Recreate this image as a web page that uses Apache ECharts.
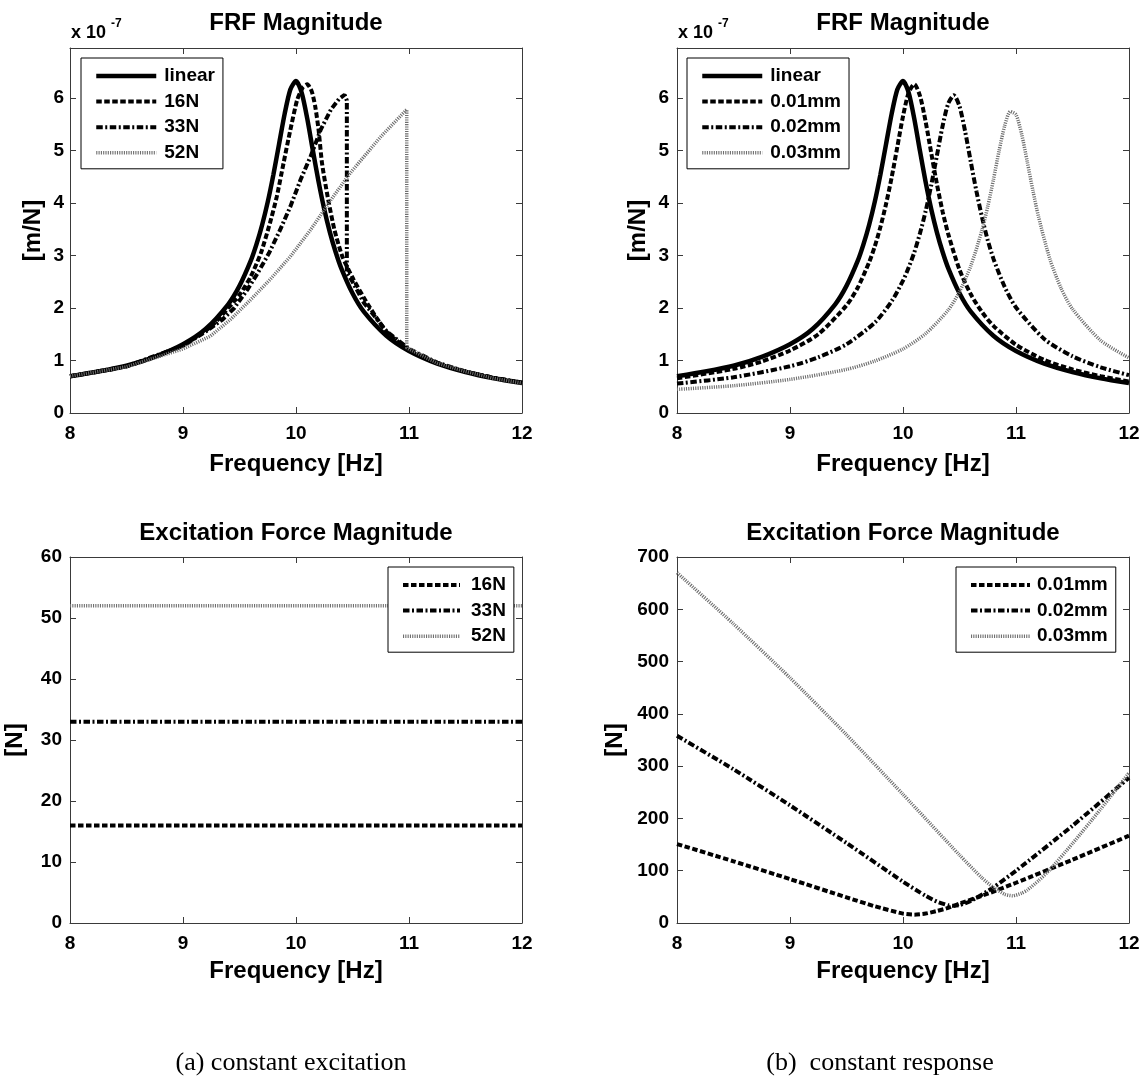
<!DOCTYPE html>
<html>
<head>
<meta charset="utf-8">
<title>FRF and excitation force</title>
<script src="https://cdn.jsdelivr.net/npm/echarts@6/dist/echarts.min.js"></script>
<style>
  html, body { margin: 0; padding: 0; background: #fff; }
  #chart { width: 1143px; height: 1079px; }
</style>
</head>
<body>
<div id="chart"></div>
<script>
// ---- Frequency axis ticks ----
const freqTicks = [8, 9, 10, 11, 12];

// ---- FRF magnitude [x 1e-7 m/N] ----
// linear system (shared by both upper panels)
const fLinear = [8.0, 8.25, 8.5, 8.75, 9.0, 9.2, 9.4, 9.5, 9.6, 9.65, 9.7, 9.75, 9.8, 9.85, 9.9, 9.95, 10.0, 10.05, 10.1, 10.15, 10.2, 10.25, 10.3, 10.35, 10.4, 10.5, 10.6, 10.8, 11.0, 11.25, 11.5, 11.75, 12.0];
const hLinear = [0.70, 0.79, 0.90, 1.07, 1.31, 1.60, 2.07, 2.42, 2.90, 3.21, 3.58, 4.02, 4.54, 5.12, 5.70, 6.16, 6.32, 6.10, 5.60, 4.99, 4.40, 3.88, 3.44, 3.07, 2.76, 2.28, 1.93, 1.47, 1.18, 0.94, 0.78, 0.66, 0.57];

// constant excitation: 16 N
const f16N = [8.0, 8.5, 9.0, 9.25, 9.5, 9.6, 9.69, 9.77, 9.83, 9.89, 9.95, 10.01, 10.06, 10.10, 10.14, 10.17, 10.20, 10.23, 10.28, 10.34, 10.41, 10.51, 10.63, 10.8, 11.0, 11.25, 11.5, 11.75, 12.0];
const h16N = [0.70, 0.89, 1.29, 1.65, 2.25, 2.60, 3.05, 3.62, 4.12, 4.76, 5.39, 5.96, 6.20, 6.26, 6.12, 5.84, 5.39, 4.76, 4.12, 3.49, 2.98, 2.54, 2.09, 1.55, 1.21, 0.95, 0.79, 0.67, 0.58];
// constant excitation: 33 N (jump-down at 10.45 Hz)
const f33N = [8.0, 8.5, 9.0, 9.2, 9.35, 9.45, 9.57, 9.66, 9.76, 9.86, 9.95, 10.04, 10.13, 10.22, 10.31, 10.38, 10.43, 10.45, 10.45, 10.5, 10.6, 10.8, 11.0, 11.25, 11.5, 11.75, 12.0];
const h33N = [0.70, 0.89, 1.28, 1.55, 1.78, 1.99, 2.35, 2.66, 3.04, 3.49, 3.93, 4.44, 4.89, 5.40, 5.78, 5.98, 6.06, 5.95, 2.67, 2.50, 2.10, 1.56, 1.22, 0.96, 0.79, 0.67, 0.58];
// constant excitation: 52 N (jump-down at 10.98 Hz)
const f52N = [8.0, 8.5, 9.0, 9.24, 9.42, 9.6, 9.77, 9.95, 10.13, 10.31, 10.48, 10.75, 10.98, 10.98, 11.25, 11.5, 11.75, 12.0];
const h52N = [0.70, 0.88, 1.22, 1.46, 1.78, 2.16, 2.54, 2.98, 3.49, 4.06, 4.57, 5.26, 5.78, 1.24, 0.95, 0.79, 0.66, 0.57];

// constant response: 0.01 mm
const f001 = [8.0, 8.5, 8.75, 9.0, 9.25, 9.5, 9.6, 9.7, 9.75, 9.8, 9.85, 9.9, 9.95, 10.0, 10.05, 10.1, 10.15, 10.2, 10.25, 10.3, 10.35, 10.4, 10.5, 10.6, 10.7, 10.8, 11.0, 11.25, 11.5, 11.75, 12.0];
const h001 = [0.66, 0.84, 0.98, 1.19, 1.50, 2.05, 2.39, 2.87, 3.17, 3.54, 3.98, 4.49, 5.07, 5.65, 6.10, 6.26, 6.04, 5.55, 4.95, 4.36, 3.84, 3.41, 2.73, 2.26, 1.92, 1.66, 1.30, 1.01, 0.83, 0.70, 0.60];
// constant response: 0.02 mm
const f002 = [8.0, 8.5, 9.0, 9.25, 9.5, 9.75, 9.9, 10.0, 10.05, 10.1, 10.15, 10.2, 10.25, 10.3, 10.35, 10.4, 10.45, 10.5, 10.55, 10.6, 10.65, 10.7, 10.75, 10.8, 10.9, 11.0, 11.25, 11.5, 11.75, 12.0];
const h002 = [0.56, 0.68, 0.89, 1.06, 1.31, 1.72, 2.13, 2.52, 2.77, 3.06, 3.42, 3.84, 4.34, 4.90, 5.46, 5.89, 6.05, 5.84, 5.36, 4.78, 4.22, 3.72, 3.29, 2.94, 2.40, 2.01, 1.41, 1.08, 0.87, 0.72];
// constant response: 0.03 mm
const f003 = [8.0, 8.5, 9.0, 9.5, 9.75, 10.0, 10.2, 10.4, 10.5, 10.6, 10.7, 10.75, 10.8, 10.85, 10.9, 10.95, 11.0, 11.05, 11.1, 11.15, 11.2, 11.3, 11.4, 11.5, 11.75, 12.0];
const h003 = [0.45, 0.52, 0.64, 0.83, 0.99, 1.22, 1.51, 1.96, 2.31, 2.80, 3.49, 3.93, 4.44, 4.99, 5.47, 5.74, 5.68, 5.31, 4.78, 4.23, 3.73, 2.93, 2.37, 1.98, 1.38, 1.05];

// ---- Excitation force magnitude [N] ----
const fEnds = [8, 12];
const force16N = [16, 16];
const force33N = [33, 33];
const force52N = [52, 52];

const fForce001 = [8.0, 8.5, 9.0, 9.5, 9.75, 10.0, 10.1, 10.2, 10.3, 10.4, 10.5, 10.75, 11.0, 11.5, 12.0];
const force001 = [151, 118, 84, 49, 32, 18, 16, 18, 23, 29, 37, 56, 77, 121, 167];
const fForce002 = [8.0, 8.5, 9.0, 9.5, 10.0, 10.2, 10.3, 10.4, 10.45, 10.5, 10.6, 10.8, 11.0, 11.5, 12.0];
const force002 = [358, 294, 225, 153, 79, 52, 41, 34, 33, 34, 42, 68, 100, 186, 278];
const fForce003 = [8.0, 8.5, 9.0, 9.5, 10.0, 10.5, 10.7, 10.8, 10.9, 10.97, 11.05, 11.1, 11.2, 11.3, 11.5, 11.75, 12.0];
const force003 = [670, 572, 469, 360, 246, 130, 86, 68, 55, 52, 57, 63, 81, 102, 152, 218, 287];

// ---- styling ----
const FONT = "'Liberation Sans', Arial, Helvetica, sans-serif";
const SERIF = "'Liberation Serif', 'Times New Roman', serif";
const AXIS_COLOR = '#3a3a3a';
const lineStyles = {
  solid:   { color: '#000', width: 4.5, type: 'solid' },
  dashed:  { color: '#000', width: 4, type: [5.5, 2.5] },
  dashdot: { color: '#000', width: 4, type: [6.5, 2.5, 2, 2.5] },
  dotted:  { color: '#6e6e6e', width: 3.5, type: [1.1, 1.2] }
};

// grid boxes: [left, top, width, height]
const boxes = [
  [70, 48, 452, 365],
  [677, 48, 452, 365],
  [70, 557, 452, 366],
  [677, 557, 452, 366]
];

const pts = (xs, ys) => xs.map((x, i) => [x, ys[i]]);

function xBottom(gi, nameGap) {
  return {
    type: 'value', gridIndex: gi, position: 'bottom',
    min: freqTicks[0], max: freqTicks[freqTicks.length - 1], interval: 1,
    name: 'Frequency [Hz]', nameLocation: 'middle', nameGap: nameGap,
    nameTextStyle: { fontSize: 24, fontWeight: 'bold', color: '#000', fontFamily: FONT },
    axisLine: { show: true, onZero: false, lineStyle: { color: AXIS_COLOR, width: 1 } },
    axisTick: { show: true, inside: true, length: 6, lineStyle: { color: AXIS_COLOR } },
    axisLabel: { margin: 11, color: '#000', fontSize: 19, fontWeight: 'bold', fontFamily: FONT },
    splitLine: { show: false }
  };
}
function xTop(gi) {
  return {
    type: 'value', gridIndex: gi, position: 'top',
    min: freqTicks[0], max: freqTicks[freqTicks.length - 1], interval: 1,
    axisLine: { show: true, onZero: false, lineStyle: { color: AXIS_COLOR, width: 1 } },
    axisTick: { show: true, inside: true, length: 6, lineStyle: { color: AXIS_COLOR } },
    axisLabel: { show: false }, splitLine: { show: false }
  };
}
function yLeft(gi, max, interval, name, gap, margin) {
  return {
    type: 'value', gridIndex: gi, position: 'left', min: 0, max: max, interval: interval,
    name: name, nameLocation: 'middle', nameGap: gap, nameRotate: 90,
    nameTextStyle: { fontSize: 24, fontWeight: 'bold', color: '#000', fontFamily: FONT },
    axisLine: { show: true, onZero: false, lineStyle: { color: AXIS_COLOR, width: 1 } },
    axisTick: { show: true, inside: true, length: 6, lineStyle: { color: AXIS_COLOR } },
    axisLabel: { margin: margin, color: '#000', fontSize: 19, fontWeight: 'bold', fontFamily: FONT,
                 showMaxLabel: Number.isInteger(max / interval) },
    splitLine: { show: false }
  };
}
function yRight(gi, max, interval) {
  return {
    type: 'value', gridIndex: gi, position: 'right', min: 0, max: max, interval: interval,
    axisLine: { show: true, onZero: false, lineStyle: { color: AXIS_COLOR, width: 1 } },
    axisTick: { show: true, inside: true, length: 6, lineStyle: { color: AXIS_COLOR } },
    axisLabel: { show: false }, splitLine: { show: false }
  };
}
function legendBox(left, top, names, iconW, textPadLeft) {
  return {
    orient: 'vertical', left: left, top: top, data: names,
    itemWidth: iconW, itemHeight: 14, itemGap: 5.6,
    padding: [8, 8, 6, 13],
    borderColor: '#000', borderWidth: 1, borderRadius: 0, backgroundColor: '#fff',
    selectedMode: false,
    // only the line sample is shown, no marker symbol on it
    itemStyle: { opacity: 0, color: 'rgba(0,0,0,0)', borderWidth: 0 },
    lineStyle: { width: 'inherit', type: 'inherit', color: 'inherit', opacity: 1 },
    textStyle: { fontSize: 19, fontWeight: 'bold', color: '#000', fontFamily: FONT,
                 lineHeight: 20, padding: [0, 0, 0, textPadLeft] }
  };
}
function line(name, gi, data, style, smooth) {
  return {
    type: 'line', name: name, xAxisIndex: gi, yAxisIndex: gi, data: data,
    symbol: 'none', showSymbol: false, smooth: smooth, clip: true,
    itemStyle: { color: lineStyles[style].color },
    lineStyle: Object.assign({}, lineStyles[style]),
    emphasis: { disabled: true }, silent: true
  };
}
function label(text, x, y, font, align) {
  return {
    type: 'text', x: x, y: y, silent: true,
    style: { text: text, font: font, fill: '#000', align: align || 'center', verticalAlign: 'middle',
             textAlign: align || 'center', textVerticalAlign: 'middle' }
  };
}

const names = {
  frfExc: ['linear', '16N', '33N', '52N'],
  frfResp: ['linear', '0.01mm', '0.02mm', '0.03mm'],
  forceExc: ['16N', '33N', '52N'],
  forceResp: ['0.01mm', '0.02mm', '0.03mm']
};

const cx = b => b[0] + b[2] / 2;

const option = {
  animation: false,
  backgroundColor: '#fff',
  grid: boxes.map(b => ({ left: b[0], top: b[1], width: b[2], height: b[3], show: false })),
  xAxis: [xBottom(0, 39), xBottom(1, 39), xBottom(2, 36), xBottom(3, 36), xTop(0), xTop(1), xTop(2), xTop(3)],
  yAxis: [
    yLeft(0, 6.95, 1, '[m/N]', 25, 6),
    yLeft(1, 6.95, 1, '[m/N]', 27, 8),
    yLeft(2, 60, 10, '[N]', 43, 8),
    yLeft(3, 700, 100, '[N]', 50, 8),
    yRight(0, 6.95, 1), yRight(1, 6.95, 1), yRight(2, 60, 10), yRight(3, 700, 100)
  ],
  legend: [
    legendBox(81, 58, names.frfExc, 60, 3),
    legendBox(687, 58, names.frfResp, 60, 3),
    legendBox(388, 567, names.forceExc, 57, 6),
    legendBox(956, 567, names.forceResp, 59, 2)
  ],
  graphic: [
    label('FRF Magnitude', cx(boxes[0]), 23, 'bold 24px ' + FONT),
    label('FRF Magnitude', cx(boxes[1]), 23, 'bold 24px ' + FONT),
    label('Excitation Force Magnitude', cx(boxes[2]), 533, 'bold 24px ' + FONT),
    label('Excitation Force Magnitude', cx(boxes[3]), 533, 'bold 24px ' + FONT),
    label('x 10', 71, 33, 'bold 18px ' + FONT, 'left'),
    label('-7', 111, 24, 'bold 12px ' + FONT, 'left'),
    label('x 10', 678, 33, 'bold 18px ' + FONT, 'left'),
    label('-7', 718, 24, 'bold 12px ' + FONT, 'left'),
    label('(a) constant excitation', 291, 1063, '26px ' + SERIF),
    label('(b)  constant response', 880, 1063, '26px ' + SERIF)
  ],
  series: [
    // upper left: constant excitation FRFs
    line('linear', 0, pts(fLinear, hLinear), 'solid', 0.25),
    line('16N', 0, pts(f16N, h16N), 'dashed', 0.2),
    line('33N', 0, pts(f33N, h33N), 'dashdot', false),
    line('52N', 0, pts(f52N, h52N), 'dotted', false),
    // upper right: constant response FRFs
    line('linear', 1, pts(fLinear, hLinear), 'solid', 0.25),
    line('0.01mm', 1, pts(f001, h001), 'dashed', 0.25),
    line('0.02mm', 1, pts(f002, h002), 'dashdot', 0.25),
    line('0.03mm', 1, pts(f003, h003), 'dotted', 0.25),
    // lower left: constant force levels
    line('16N', 2, pts(fEnds, force16N), 'dashed', false),
    line('33N', 2, pts(fEnds, force33N), 'dashdot', false),
    line('52N', 2, pts(fEnds, force52N), 'dotted', false),
    // lower right: force needed for constant response
    line('0.01mm', 3, pts(fForce001, force001), 'dashed', 0.2),
    line('0.02mm', 3, pts(fForce002, force002), 'dashdot', 0.2),
    line('0.03mm', 3, pts(fForce003, force003), 'dotted', 0.2)
  ]
};

const chart = echarts.init(document.getElementById('chart'), null, { renderer: 'canvas' });
chart.setOption(option);
</script>
</body>
</html>
